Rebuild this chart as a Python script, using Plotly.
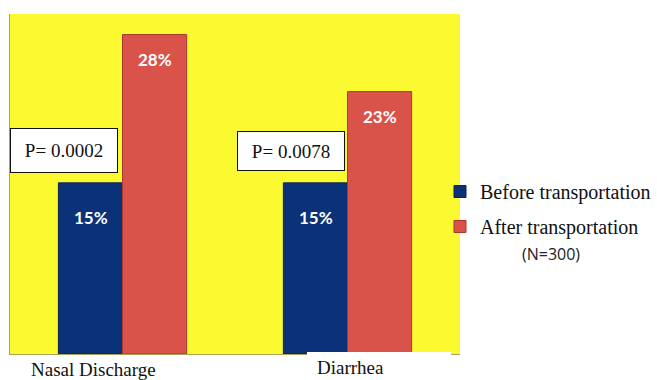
import plotly.graph_objects as go

categories = ["Nasal Discharge", "Diarrhea"]
before = [15, 15]
after = [28, 23]
p_values = ["P= 0.0002", "P= 0.0078"]
series_names = ["Before transportation", "After transportation"]
note = "(N=300)"

W, H = 657, 380
L, R, T, B = 10, 197, 14, 26

def px_x(p):
    return (p - L) / (W - L - R)

def px_y(p):
    return (H - B - p) / (H - T - B)

fig = go.Figure()
fig.add_trace(go.Bar(x=categories, y=before, name=series_names[0],
                     marker=dict(color="#0B3278", line=dict(color="#062358", width=1)),
                     legendgroup="a"))
fig.add_trace(go.Bar(x=categories, y=after, name=series_names[1],
                     marker=dict(color="#D9534B", line=dict(color="#A8382F", width=1)),
                     legendgroup="b"))

ann = []
lab_font = dict(family="Lato", size=17, color="white", weight="bold")
for i, c in enumerate(categories):
    ann.append(dict(x=i, y=before[i], xref="x", yref="y", text=f"{before[i]}%", showarrow=False,
                    xanchor="center", yanchor="middle",
                    xshift=-32, yshift=-35, font=lab_font))
    ann.append(dict(x=i, y=after[i], xref="x", yref="y", text=f"{after[i]}%", showarrow=False,
                    xanchor="center", yanchor="middle",
                    xshift=32, yshift=-25, font=lab_font))
# category labels
cat_shift = [-29, 3]
cat_y = [369, 367]
for i, c in enumerate(categories):
    ann.append(dict(x=i, y=px_y(cat_y[i]), xref="x", yref="paper", text=c, showarrow=False,
                    xanchor="center", yanchor="middle",
                    xshift=cat_shift[i], font=dict(family="Liberation Serif", size=19, color="#111")))
# p-value boxes
boxes = [(10, 118, 128, 173), (237, 345, 131, 171)]
for (x0, x1, y0, y1), t in zip(boxes, p_values):
    ann.append(dict(x=px_x((x0 + x1) / 2), y=px_y((y0 + y1) / 2), xref="paper", yref="paper",
                    xanchor="center", yanchor="middle",
                    text=t, showarrow=False, bgcolor="white", bordercolor="#111", borderwidth=1,
                    width=x1 - x0 - 2, height=y1 - y0 - 2, borderpad=0,
                    font=dict(family="Liberation Serif", size=19, color="#111")))
ann.append(dict(x=px_x(551), y=px_y(254), xref="paper", yref="paper", text=note, showarrow=False,
                xanchor="center", yanchor="middle",
                font=dict(family="Open Sans", size=16, color="#222")))

shapes = [dict(type="rect", xref="paper", yref="paper", x0=px_x(307), x1=px_x(451),
               y0=px_y(380), y1=px_y(352), fillcolor="white", line=dict(width=0), layer="above")]

fig.update_layout(
    width=W, height=H, margin=dict(l=L, r=R, t=T, b=B, autoexpand=False),
    paper_bgcolor="white", plot_bgcolor="#FBF92F",
    barmode="group", bargap=0.43, bargroupgap=0,
    xaxis=dict(range=[-0.5, 1.5], showticklabels=False, showgrid=False, zeroline=False,
               showline=True, linecolor="#A7A45A", linewidth=1, ticks=""),
    yaxis=dict(range=[0, 29.8], showticklabels=False, showgrid=False, zeroline=False,
               showline=True, linecolor="#A7A45A", linewidth=1, ticks=""),
    legend=dict(x=px_x(440), y=px_y(172), xanchor="left", yanchor="top",
                font=dict(family="Liberation Serif", size=20, color="#111"),
                bgcolor="rgba(0,0,0,0)", tracegroupgap=6, itemwidth=30),
    annotations=ann, shapes=shapes, showlegend=True,
)
fig.write_html("out.html")
